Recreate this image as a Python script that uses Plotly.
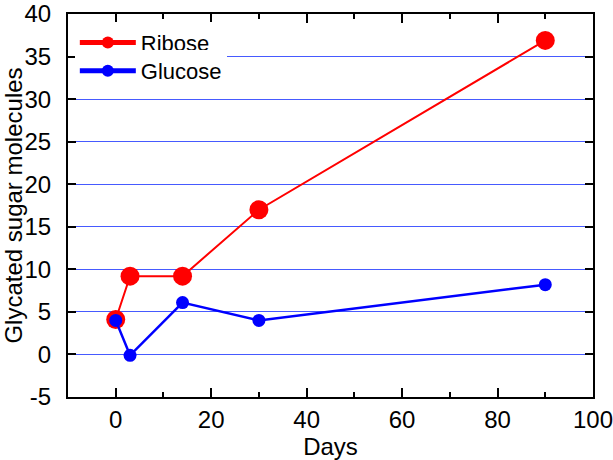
import plotly.graph_objects as go

days_ribose = [0, 3, 14, 30, 90]
ribose = [4.1, 9.2, 9.2, 17.0, 36.9]
days_glucose = [0, 3, 14, 30, 90]
glucose = [4.0, -0.1, 6.1, 4.0, 8.2]

y_tickvals = [-5, 0, 5, 10, 15, 20, 25, 30, 35, 40]
y_ticktext = ["-5", "0", "5", "10", "15", "20", "25", "30", "35", "40"]
x_tickvals = [0, 20, 40, 60, 80, 100]
x_ticktext = ["0", "20", "40", "60", "80", "100"]

font_family = "Liberation Sans, Arial, sans-serif"
grid_color = "rgb(70,90,255)"

fig = go.Figure()
fig.add_trace(go.Scatter(
    x=days_ribose, y=ribose, name="Ribose", mode="lines+markers",
    line=dict(color="#ff0000", width=2),
    marker=dict(color="#ff0000", size=19),
    legend="legend",
))
fig.add_trace(go.Scatter(
    x=days_glucose, y=glucose, name="Glucose", mode="lines+markers",
    line=dict(color="#0000ff", width=2.5),
    marker=dict(color="#0000ff", size=13),
    legend="legend2",
))

legend_common = dict(
    xanchor="left", yanchor="middle",
    bgcolor="white", borderwidth=0,
    font=dict(size=22), tracegroupgap=0,
    itemsizing="constant", itemwidth=56,
)

fig.update_layout(
    width=613, height=460,
    margin=dict(l=68, r=20, t=14, b=63),
    paper_bgcolor="white", plot_bgcolor="white",
    font=dict(family=font_family, size=24, color="black"),
    showlegend=True,
    legend=dict(x=0.013, y=0.925, **legend_common),
    legend2=dict(x=0.013, y=0.851, **legend_common),
)
fig.update_xaxes(
    range=[-10, 100], tickmode="array", tickvals=x_tickvals, ticktext=x_ticktext,
    showline=True, linecolor="black", linewidth=2, mirror="allticks",
    ticks="inside", ticklen=9, tickwidth=1.5, tickcolor="black",
    minor=dict(dtick=10, tick0=0, ticks="inside", ticklen=5, tickwidth=1.5, tickcolor="black", showgrid=False),
    showgrid=False, zeroline=False, automargin=False, ticklabeloverflow="allow",
    title=dict(text="Days", font=dict(size=24), standoff=6),
    ticklabelstandoff=0,
)
fig.update_yaxes(
    range=[-5, 40], tickmode="array", tickvals=y_tickvals, ticktext=y_ticktext,
    showline=True, linecolor="black", linewidth=2, mirror="allticks",
    ticks="inside", ticklen=8, tickwidth=1.5, tickcolor="black",
    showgrid=True, gridcolor=grid_color, gridwidth=1.2, zeroline=False,
    automargin=False, ticklabeloverflow="allow",
    title=dict(text="Glycated sugar molecules", font=dict(size=24), standoff=6),
    ticklabelstandoff=10,
)

fig.write_html("out.html", config={"displayModeBar": False},
               post_script="document.body.style.margin='0';")
